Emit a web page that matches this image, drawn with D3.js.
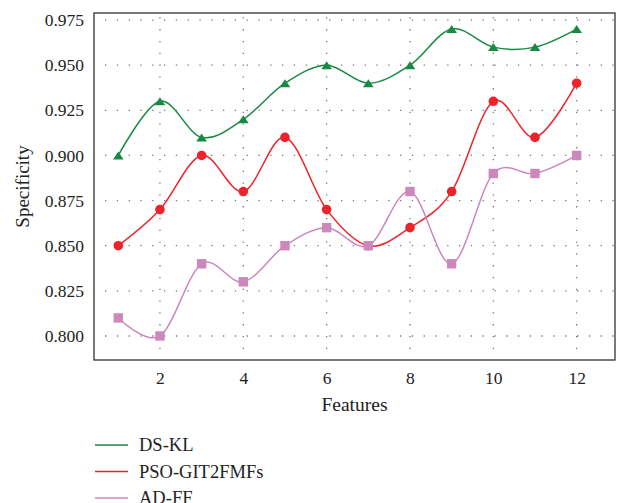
<!DOCTYPE html>
<html>
<head>
<meta charset="utf-8">
<script src="https://cdn.jsdelivr.net/npm/d3@7"></script>
<style>
  body { margin: 0; background: #fff; }
  svg text { font-family: "Liberation Serif", "DejaVu Serif", serif; fill: #222; }
</style>
</head>
<body>
<div id="chart"></div>
<script>
const features = [1, 2, 3, 4, 5, 6, 7, 8, 9, 10, 11, 12];
const dsKL = [0.90, 0.93, 0.91, 0.92, 0.94, 0.95, 0.94, 0.95, 0.97, 0.96, 0.96, 0.97];
const psoGit = [0.85, 0.87, 0.90, 0.88, 0.91, 0.87, 0.85, 0.86, 0.88, 0.93, 0.91, 0.94];
const adFF = [0.81, 0.80, 0.84, 0.83, 0.85, 0.86, 0.85, 0.88, 0.84, 0.89, 0.89, 0.90];
const xTicks = [2, 4, 6, 8, 10, 12];
const yTicks = [0.800, 0.825, 0.850, 0.875, 0.900, 0.925, 0.950, 0.975];

const series = [
  { name: "DS-KL", values: dsKL, color: "#188a44", marker: "triangle" },
  { name: "PSO-GIT2FMFs", values: psoGit, color: "#ee2229", marker: "circle" },
  { name: "AD-FF", values: adFF, color: "#cc88bb", marker: "square" }
];

let width = 619, height = 503;
let plotLeft = 94, plotTop = 13, plotRight = 615, plotBottom = 360;

let svg = d3.select("#chart").append("svg")
  .attr("width", width)
  .attr("height", height);

let x = d3.scaleLinear().domain([0.417, 12.92]).range([plotLeft, plotRight]);
let y = d3.scaleLinear().domain([0.7867, 0.9789]).range([plotBottom, plotTop]);

// grid
svg.append("g").selectAll("line").data(xTicks).enter().append("line")
  .attr("x1", d => x(d)).attr("x2", d => x(d))
  .attr("y1", plotBottom - 11).attr("y2", plotTop)
  .attr("stroke", "#777").attr("stroke-width", 1.3)
  .attr("stroke-dasharray", "1.3,10.5");
svg.append("g").selectAll("line").data(yTicks).enter().append("line")
  .attr("x1", plotLeft + 11).attr("x2", plotRight)
  .attr("y1", d => y(d)).attr("y2", d => y(d))
  .attr("stroke", "#777").attr("stroke-width", 1.3)
  .attr("stroke-dasharray", "1.3,10.5");

// axes
let xAxis = d3.axisBottom(x).tickValues(xTicks).tickSize(0).tickPadding(12);
let yAxis = d3.axisLeft(y).tickValues(yTicks).tickSize(0).tickPadding(10)
  .tickFormat(d3.format(".3f"));

let gx = svg.append("g").attr("transform", "translate(0," + plotBottom + ")").call(xAxis);
let gy = svg.append("g").attr("transform", "translate(" + plotLeft + ",0)").call(yAxis);
[gx, gy].forEach(g => {
  g.select(".domain").remove();
  g.selectAll("text").style("font-size", "17.5px")
    .style("font-family", "Liberation Serif, serif").attr("fill", "#222");
});

svg.append("rect")
  .attr("x", plotLeft).attr("y", plotTop)
  .attr("width", plotRight - plotLeft).attr("height", plotBottom - plotTop)
  .attr("fill", "none").attr("stroke", "#333").attr("stroke-width", 1.3);

svg.append("text")
  .attr("x", (plotLeft + plotRight) / 2).attr("y", 411)
  .attr("text-anchor", "middle").style("font-size", "19.5px")
  .text("Features");

svg.append("text")
  .attr("transform", "translate(29," + ((plotTop + plotBottom) / 2) + ") rotate(-90)")
  .attr("text-anchor", "middle").style("font-size", "19px")
  .text("Specificity");

// lines
let line = d3.line()
  .x((d, i) => x(features[i]))
  .y(d => y(d))
  .curve(d3.curveCardinal.tension(0));

series.forEach(s => {
  svg.append("path")
    .attr("d", line(s.values))
    .attr("fill", "none")
    .attr("stroke", s.color)
    .attr("stroke-width", 1.5);

  let g = svg.append("g").attr("fill", s.color);
  s.values.forEach((v, i) => {
    let cx = x(features[i]), cy = y(v);
    if (s.marker === "circle") {
      g.append("circle").attr("cx", cx).attr("cy", cy).attr("r", 4.8);
    } else if (s.marker === "square") {
      g.append("rect").attr("x", cx - 4.7).attr("y", cy - 4.7).attr("width", 9.4).attr("height", 9.4);
    } else {
      g.append("path").attr("d", "M0,-4L5.3,4L-5.3,4Z")
        .attr("transform", "translate(" + cx + "," + cy + ")");
    }
  });
});

// legend
let legend = svg.append("g");
series.forEach((s, i) => {
  let ly = 445 + i * 26.5;
  legend.append("line")
    .attr("x1", 95).attr("x2", 128)
    .attr("y1", ly).attr("y2", ly)
    .attr("stroke", s.color).attr("stroke-width", 1.5);
  legend.append("text")
    .attr("x", 139).attr("y", ly + 6)
    .style("font-size", "18.5px")
    .text(s.name);
});
</script>
</body>
</html>
